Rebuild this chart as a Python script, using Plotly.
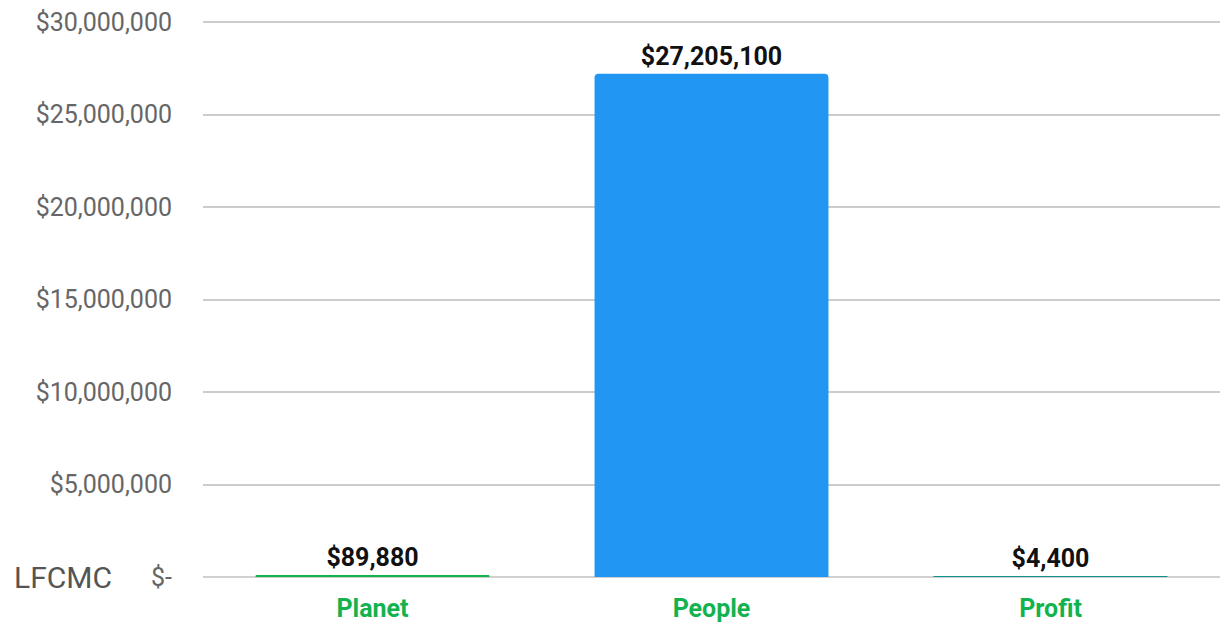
import plotly.graph_objects as go

categories = ["Planet", "People", "Profit"]
values = [89880, 27205100, 4400]
bar_colors = ["#12B34F", "#2196F3", "#0D9488"]
value_labels = ["$89,880", "$27,205,100", "$4,400"]
tick_vals = [0, 5000000, 10000000, 15000000, 20000000, 25000000, 30000000]
tick_text = ["$-", "$5,000,000", "$10,000,000", "$15,000,000", "$20,000,000", "$25,000,000", "$30,000,000"]

fig = go.Figure()
fig.add_trace(go.Bar(
    x=categories, y=values,
    marker=dict(color=bar_colors, cornerradius=4, line=dict(width=0)),
    text=value_labels, textposition="outside", cliponaxis=False,
    textfont=dict(family="Roboto", size=25, color="#111111", weight="bold"),
    width=0.69,
))

fig.update_layout(
    width=1220, height=624,
    margin=dict(l=203, r=0, t=21, b=47),
    paper_bgcolor="white", plot_bgcolor="white",
    showlegend=False,
    font=dict(family="Roboto"),
    xaxis=dict(
        showgrid=False, showline=False, zeroline=False,
        tickfont=dict(family="Roboto", size=25, color="#12B34F", weight="bold"),
        ticks="", ticklabelstandoff=14,
    ),
    yaxis=dict(
        range=[0, 30060000],
        tickvals=tick_vals, ticktext=tick_text,
        tickfont=dict(family="Roboto", size=25, color="#666666"),
        gridcolor="#cccccc", gridwidth=2,
        zeroline=True, zerolinecolor="#d0d0d0", zerolinewidth=2,
        showline=False, ticks="", ticklabelstandoff=30,
    ),
    annotations=[dict(
        text="LFCMC", xref="paper", yref="y", x=-(203 - 12) / 1017, y=0,
        xanchor="left", yanchor="middle", showarrow=False,
        font=dict(family="Roboto", size=30, color="#555555"),
    )],
)

fig.write_html(
    "out.html",
    config={"displayModeBar": False},
    post_script="document.body.style.margin='0';document.body.style.overflow='hidden';",
)
